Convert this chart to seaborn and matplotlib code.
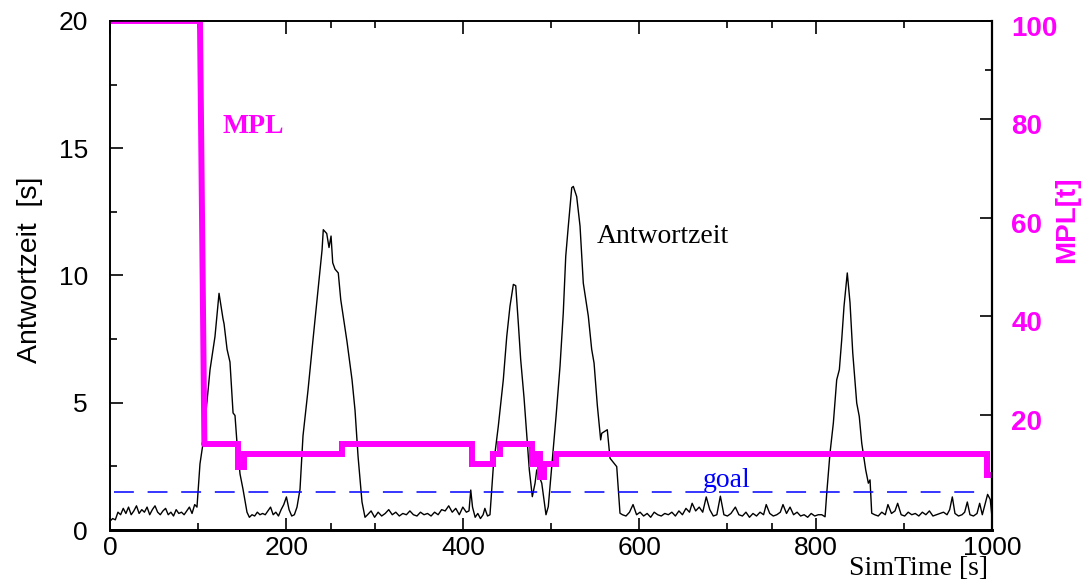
import numpy as np
import matplotlib
matplotlib.use("Agg")
import matplotlib.pyplot as plt
import matplotlib.transforms as mtransforms
import seaborn as sns

sns.set_style("ticks")
plt.rcParams['font.family'] = ['Liberation Sans', 'DejaVu Sans']
plt.rcParams['text.color'] = 'black'
plt.rcParams['xtick.color'] = 'black'
plt.rcParams['ytick.color'] = 'black'
plt.rcParams['axes.edgecolor'] = 'black'

# response time (Antwortzeit) in s over simulation time in s
rt_t = [0, 3, 6, 9, 12, 15, 18, 21, 24, 27, 30, 33, 36, 39, 42, 45, 48, 51, 54, 57,
        60, 63, 66, 69, 72, 75, 78, 81, 84, 87, 90, 93, 96,
        98.6, 102, 105.4, 113.4, 119, 123.6, 128.1, 129.3, 132.7, 136, 139.5, 141.7,
        144, 147.4, 150.8, 155.3,
        158, 161, 164, 167, 170, 173, 176, 179, 182, 185, 188, 191, 194, 197, 200,
        203, 206, 209, 212,
        215.4, 218.8, 224.5, 230.2, 235.8, 240.4, 241.8, 245.7, 248.3, 250.6, 252.5,
        255.1, 258.8, 261.6, 268.7, 274.4, 277.8, 281.2, 285.7, 289.1,
        292, 296, 300, 304, 308, 312, 316, 320, 324, 328, 332, 336, 340, 344, 348,
        352, 356, 360, 364, 368, 372, 376, 380, 384, 388, 392, 396, 400, 404, 407,
        409, 411, 414, 417, 420, 423, 425, 428,
        430.8, 434.6, 440.2, 445.9, 449.8, 453.5, 457.3, 460.0, 462.9, 465.6, 469.4,
        472.4, 475.4, 478.8, 481.9, 483.8, 489.5, 494.3, 496.9, 500.8, 505.7, 510.2,
        513.9, 516.7, 519.6, 523.5, 525.3, 529.1, 532.9, 536.6, 542.3, 546.1, 548.8,
        552.5, 556.3, 557.5, 563.8, 566.9, 574.5, 578.2,
        581, 585, 589, 593, 597, 601, 605, 609, 613, 617, 621, 625, 629, 633, 637,
        641, 645, 649, 653, 657, 660, 664, 668, 672, 676, 680, 684, 688, 692, 696,
        700, 704, 709, 713, 717, 721, 725, 729, 733, 737, 741, 744, 748, 752, 756,
        760, 763, 767, 771, 775, 779, 783, 787, 791, 795, 799, 803, 807,
        810.7, 812.6, 816.3, 820.1, 823.9, 826.9, 829.6, 832.2, 835.9, 839.0, 842.1,
        843.9, 846.6, 849.5, 852.3, 856.8, 859.8, 861.7, 863.6,
        867, 871, 875, 879, 882, 886, 890, 893, 897, 901, 905, 909, 913, 917, 921,
        925, 929, 933, 937, 941, 945, 949, 952, 955, 958, 962, 966, 969, 972, 975,
        979, 983, 986, 989, 992, 995, 998, 1000]
rt_v = [0.35, 0.45, 0.4, 0.7, 0.6, 0.85, 0.65, 0.9, 0.6, 0.75, 0.95, 0.65, 0.8, 0.7,
        0.9, 0.6, 0.8, 0.95, 0.7, 0.6, 0.75, 0.85, 0.6, 0.7, 0.55, 0.8, 0.65, 0.7,
        0.6, 0.75, 0.9, 0.65, 1.0,
        0.9, 2.6, 3.4, 6.3, 7.6, 9.3, 8.3, 8.1, 7.1, 6.6, 4.6, 4.5, 3.4, 2.2, 1.6, 0.7,
        0.5, 0.6, 0.55, 0.7, 0.6, 0.65, 0.6, 0.75, 0.9, 0.6, 0.7, 0.55, 0.8, 1.0, 1.3,
        0.8, 0.55, 0.6, 0.9,
        1.6, 3.7, 5.5, 7.5, 9.4, 11.0, 11.8, 11.65, 11.1, 11.55, 10.5, 10.25, 10.1,
        9.05, 7.4, 5.9, 4.7, 2.9, 1.1, 0.5,
        0.6, 0.75, 0.5, 0.7, 0.55, 0.65, 0.8, 0.6, 0.7, 0.55, 0.65, 0.6, 0.75, 0.6,
        0.55, 0.7, 0.6, 0.65, 0.55, 0.7, 0.6, 0.8, 0.75, 0.95, 0.7, 0.85, 0.6, 0.9,
        0.7, 0.75,
        1.57, 0.9, 0.5, 0.65, 0.45, 0.6, 0.85, 0.55,
        0.6, 2.5, 4.07, 5.9, 7.6, 8.8, 9.65, 9.6, 8.14, 6.7, 5.2, 3.8, 2.36, 1.31,
        1.84, 2.36, 1.84, 0.6, 0.92, 2.5, 4.46, 6.43, 8.53, 10.76, 11.94, 13.45,
        13.5, 13.1, 11.94, 9.7, 8.4, 7.1, 6.56, 4.9, 3.54, 3.8, 3.94, 2.82, 2.49, 0.66,
        0.6, 0.55, 0.7, 1.0, 0.6, 0.7, 0.55, 0.65, 0.5, 0.7, 0.6, 0.55, 0.65, 0.6,
        0.7, 0.55, 0.75, 0.6, 0.85, 0.7, 1.05, 0.75, 0.9, 0.7, 1.3, 0.8, 0.55, 0.6,
        1.33, 0.6, 0.55, 0.65, 0.9, 0.6, 0.55, 0.7, 0.5, 0.65, 0.55, 0.7, 0.6, 1.0,
        0.65, 0.55, 0.6, 0.7, 1.0, 0.65, 0.9, 0.6, 0.7, 0.55, 0.6, 0.5, 0.65, 0.55,
        0.6, 0.6,
        0.52, 1.44, 3.02, 4.2, 5.9, 6.3, 7.48, 8.79, 10.1, 8.93, 6.96, 6.17, 4.99,
        4.46, 3.41, 2.36, 1.84, 1.97, 0.66,
        0.6, 0.55, 0.7, 0.6, 1.0, 0.65, 0.75, 1.05, 0.6, 0.55, 0.7, 0.6, 0.65, 0.55,
        0.7, 0.6, 0.75, 0.55, 0.6, 0.65, 0.7, 0.6, 0.8, 1.3, 0.65, 0.55, 0.6, 0.7,
        1.1, 0.6, 0.55, 0.65, 1.05, 0.6, 1.0, 1.4, 1.2, 0.5]

# multiprogramming level, value holds until the next change point
mpl_t = [0, 102, 107, 145.5, 151.5, 263, 410, 434.5, 442, 478, 483, 487, 492, 506, 994, 1000]
mpl_v = [100, 100, 14.1, 9.4, 12.1, 14.1, 10.0, 12.1, 14.1, 10.0, 12.1, 7.4, 10.0, 12.1, 7.8, 7.8]

goal = 1.5

magenta = '#ff00ff'

fig = plt.figure(figsize=(10.85, 5.83), dpi=100)
ax = fig.add_axes([0.1014, 0.0909, 0.8129, 0.8731])
ax2 = ax.twinx()

sns.lineplot(x=rt_t, y=rt_v, ax=ax, color='black', linewidth=1.0, sort=False)
ax.axhline(goal, color='#0000ff', linewidth=1.1, linestyle=(0, (13, 9)), xmin=0.005, xmax=0.995)

# the first drop is slightly sloped, the rest are steps
ax2.plot(mpl_t[:3], mpl_v[:3], color=magenta, linewidth=4.3, solid_capstyle='round')
sns.lineplot(x=mpl_t[2:], y=mpl_v[2:], ax=ax2, color=magenta, linewidth=4.3,
             drawstyle='steps-post', solid_capstyle='round', solid_joinstyle='miter')

ax.set_xlim(0, 1000)
ax.set_ylim(0, 20)
ax2.set_ylim(-3.35, 100)

ax.set_xticks([0, 200, 400, 600, 800, 1000])
ax.set_xticks([100, 250, 300, 500, 700, 750, 900], minor=True)
ax.set_yticks([0, 5, 10, 15, 20])
ax.set_yticks([2.5, 7.5, 12.5, 17.5], minor=True)
ax.tick_params(axis='both', which='both', direction='in', top=True, right=False,
               labelsize=19, width=1.2, colors='black')
ax.tick_params(axis='x', which='major', length=9, pad=4)
ax.tick_params(axis='x', which='minor', length=5)
ax.tick_params(axis='y', which='major', length=9, pad=16)
ax.tick_params(axis='y', which='minor', length=5)

ax2.set_yticks([20, 40, 60, 80, 100])
ax2.set_yticks([90], minor=True)
ax2.tick_params(axis='y', which='both', direction='in', width=1.2, labelsize=20,
                labelcolor=magenta, color='black', pad=14)
ax2.tick_params(axis='y', which='major', length=9)
ax2.tick_params(axis='y', which='minor', length=5)
shift = mtransforms.ScaledTranslation(0, -5 / 100, fig.dpi_scale_trans)
for lab in ax2.get_yticklabels():
    lab.set_fontweight('bold')
    lab.set_transform(lab.get_transform() + shift)

ax.set_xlabel('')
ax.set_ylabel('')
ax2.set_ylabel('')
for s in ['left', 'top', 'right']:
    ax.spines[s].set_linewidth(1.2)
    ax2.spines[s].set_linewidth(1.2)
ax.spines['bottom'].set_linewidth(2.0)
ax2.spines['bottom'].set_linewidth(2.0)
ax2.spines['right'].set_linewidth(1.6)

serif = ['Liberation Serif', 'DejaVu Serif']
ax.text(128, 15.6, 'MPL', color=magenta, fontsize=20, fontweight='bold', family=serif, va='baseline')
ax.text(552, 11.28, 'Antwortzeit', color='black', fontsize=20, family=serif, va='baseline')
ax.text(672, 1.69, 'goal', color='#0000ff', fontsize=20, family=serif, va='baseline')

fig.text(988 / 1085, 1 - 575 / 583, 'SimTime [s]', fontsize=20, family=serif,
         ha='right', va='baseline')
fig.text(30 / 1085, 1 - 270 / 583, 'Antwortzeit  [s]', fontsize=20.5, rotation=90,
         ha='center', va='center')
fig.text(1067 / 1085, 1 - 220 / 583, 'MPL[t]', fontsize=20, rotation=90,
         ha='center', va='center', color=magenta, fontweight='bold')

fig.savefig('out.png', dpi=100)
